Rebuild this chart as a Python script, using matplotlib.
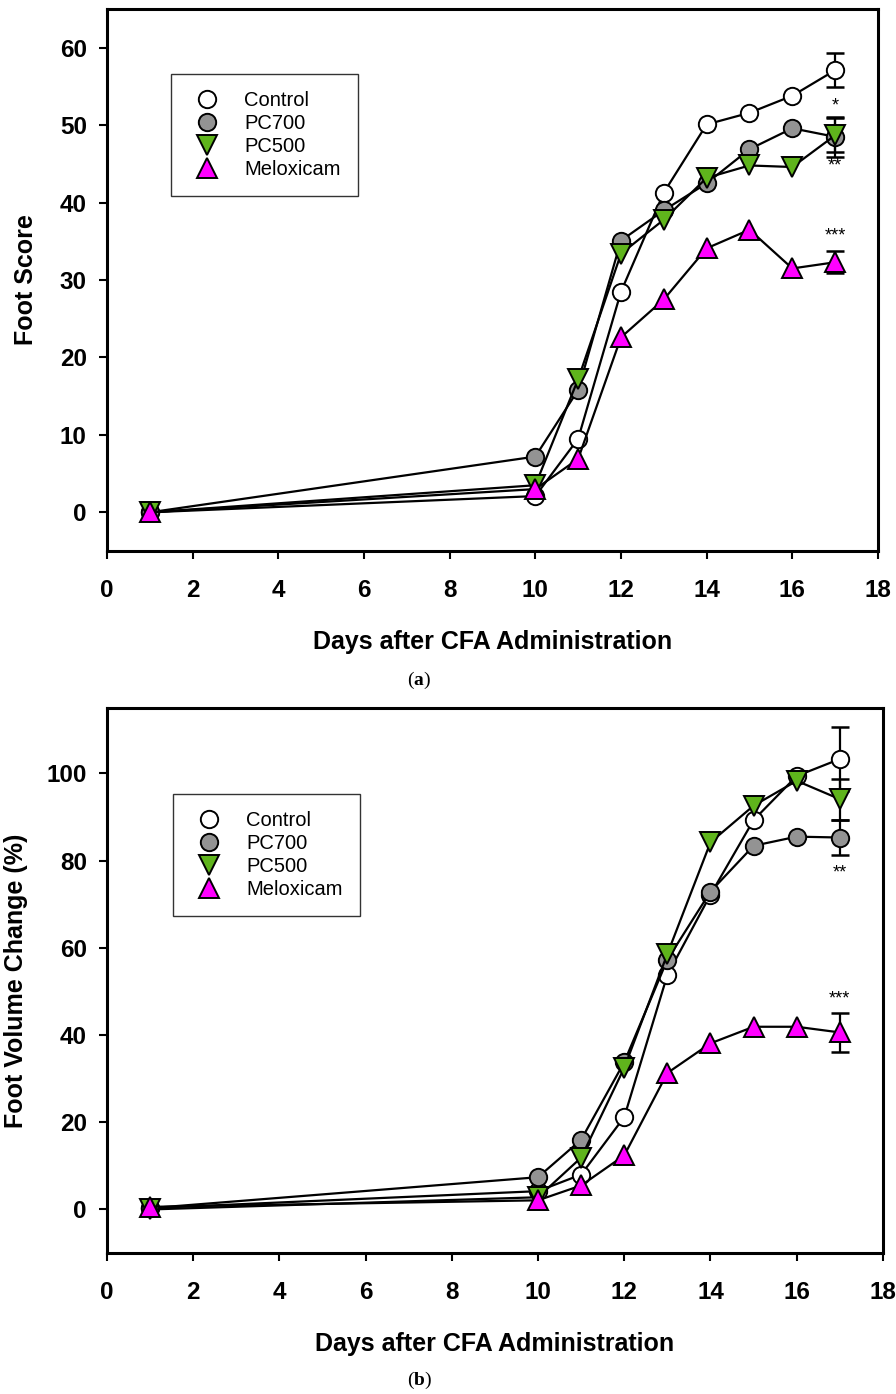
import matplotlib
matplotlib.use("Agg")
import matplotlib.pyplot as plt
from matplotlib.lines import Line2D

days = [1, 10, 11, 12, 13, 14, 15, 16, 17]
groups = ["Control", "PC700", "PC500", "Meloxicam"]

# (a) foot score
score_control = [0.0, 2.1, 9.5, 28.5, 41.3, 50.1, 51.6, 53.8, 57.1]
score_pc700 = [0.0, 7.2, 15.8, 35.1, 39.0, 42.5, 46.9, 49.6, 48.5]
score_pc500 = [0.0, 3.5, 17.2, 33.4, 37.8, 43.2, 44.8, 44.6, 48.7]
score_melox = [0.0, 3.0, 6.9, 22.6, 27.5, 34.1, 36.5, 31.5, 32.3]
score_err17 = [2.2, 2.6, 2.2, 1.4]
score_stars = ["*", "**", "", "***"]
score_star_y = [52.8, 45.0, None, 36.0]

# (b) foot volume change
vol_control = [0.3, 4.2, 8.0, 21.2, 53.8, 72.2, 89.3, 99.4, 103.3]
vol_pc700 = [0.3, 7.4, 16.0, 33.8, 57.3, 72.9, 83.4, 85.5, 85.3]
vol_pc500 = [0.0, 2.8, 11.9, 32.5, 58.6, 84.2, 92.6, 98.3, 94.1]
vol_melox = [0.6, 2.1, 5.5, 12.4, 31.3, 38.1, 41.9, 41.9, 40.6]
vol_err17 = [7.3, 4.1, 4.7, 4.4]
vol_stars = ["", "**", "", "***"]
vol_star_y = [None, 77.7, None, 48.8]

markers = ["o", "o", "v", "^"]
faces = ["white", "#939393", "#5fb41c", "#ff00ff"]
msizes = [12.5, 12.5, 15, 15]

plt.rcParams["font.family"] = ["Liberation Sans", "DejaVu Sans"]
plt.rcParams["mathtext.fontset"] = "custom"
plt.rcParams["mathtext.bf"] = "Liberation Serif:bold"

fig = plt.figure(figsize=(8.96, 13.94), dpi=100)
ax1 = fig.add_axes([0.1194, 0.6047, 0.8605, 0.3888])
ax2 = fig.add_axes([0.1194, 0.1011, 0.866, 0.391])


def draw(ax, series, errs, stars, star_y, ylim, yticks, ylabel, leg_anchor, ylab_x):
    for i, ys in enumerate(series):
        ax.plot(days, ys, color="black", lw=1.6, marker=markers[i], ms=msizes[i],
                mfc=faces[i], mec="black", mew=1.4, zorder=3 + i)
        ax.errorbar([days[-1]], [ys[-1]], yerr=[errs[i]], fmt="none", ecolor="black",
                    elinewidth=1.6, capsize=6.5, capthick=1.8, zorder=2)
        if stars[i]:
            # asterisk glyph sits high in the em box, so anchor on the baseline
            ax.annotate(stars[i], (days[-1], star_y[i]), xytext=(0, -5),
                        textcoords="offset points", ha="center", va="baseline",
                        fontsize=13)
    ax.set_xlim(0, 18)
    ax.set_ylim(*ylim)
    ax.set_xticks(range(0, 19, 2))
    ax.set_yticks(yticks)
    for s in ax.spines.values():
        s.set_linewidth(2.2)
    ax.tick_params(direction="out", length=6, width=1.5, labelsize=17.5)
    ax.tick_params(axis="x", pad=14)
    ax.tick_params(axis="y", pad=8.5)
    for lab in ax.get_xticklabels() + ax.get_yticklabels():
        lab.set_fontweight("bold")
    ax.set_xlabel("Days after CFA Administration", fontsize=18, fontweight="bold", labelpad=20)
    ax.set_ylabel(ylabel, fontsize=18, fontweight="bold")
    ax.yaxis.set_label_coords(ylab_x, 0.5)
    handles = [Line2D([], [], ls="none", marker=markers[i], ms=msizes[i], mfc=faces[i],
                      mec="black", mew=1.4) for i in range(4)]
    leg = ax.legend(handles, groups, loc="upper left", bbox_to_anchor=leg_anchor,
                    fontsize=14.5, frameon=True, fancybox=False, edgecolor="black",
                    handlelength=1.9, handletextpad=0.9, labelspacing=0.2,
                    borderpad=0.85, borderaxespad=0)
    leg.get_frame().set_linewidth(1.0)


draw(ax1, [score_control, score_pc700, score_pc500, score_melox], score_err17,
     score_stars, score_star_y, (-5, 65), range(0, 61, 10), "Foot Score",
     (0.083, 0.88), -0.09)
draw(ax2, [vol_control, vol_pc700, vol_pc500, vol_melox], vol_err17,
     vol_stars, vol_star_y, (-10, 115), range(0, 101, 20), "Foot Volume Change (%)",
     (0.085, 0.843), -0.102)

fig.text(0.468, 1 - 680 / 1394, r"($\mathbf{a}$)", ha="center", va="center", fontsize=14,
         family=["Liberation Serif", "DejaVu Serif"])
fig.text(0.468, 1 - 1380 / 1394, r"($\mathbf{b}$)", ha="center", va="center", fontsize=14,
         family=["Liberation Serif", "DejaVu Serif"])

fig.savefig("out.png", dpi=100)
